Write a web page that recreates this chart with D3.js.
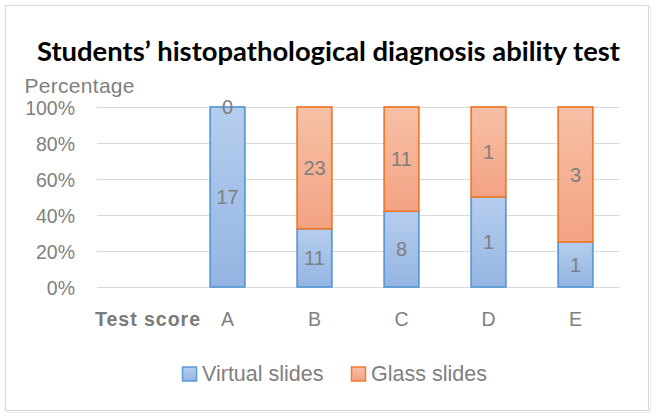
<!DOCTYPE html>
<html>
<head>
<meta charset="utf-8">
<script src="https://cdn.jsdelivr.net/npm/d3@7"></script>
<style>
html,body{margin:0;padding:0;background:#fff;}
svg{display:block;}
</style>
</head>
<body>
<svg id="chart" width="656" height="420"></svg>
<script>
const categories = ["A", "B", "C", "D", "E"];
const virtualSlides = [17, 11, 8, 1, 1];
const glassSlides = [0, 23, 11, 1, 3];
const seriesNames = ["Virtual slides", "Glass slides"];
const yTicks = [0, 0.2, 0.4, 0.6, 0.8, 1.0];
const title = "Students\u2019 histopathological diagnosis ability test";
const yTitle = "Percentage";
const xTitle = "Test score";

const svg = d3.select("#chart");
const W = 656, H = 420;
const m = {left: 97, right: 37, top: 107, bottom: 133};
const font = "'Liberation Sans', Arial, sans-serif";
const grey = "#7f7f7f";

// outer frame
svg.append("rect").attr("x", 5.5).attr("y", 5.5).attr("width", 643).attr("height", 405)
  .attr("fill", "#fff").attr("stroke", "#d9d9d9").attr("stroke-width", 1.2);
svg.append("line").attr("x1", 6).attr("x2", 650).attr("y1", 412.5).attr("y2", 412.5).attr("stroke", "#ececec");
svg.append("line").attr("x1", 650.5).attr("x2", 650.5).attr("y1", 6).attr("y2", 413).attr("stroke", "#ececec");

const defs = svg.append("defs");
const gB = defs.append("linearGradient").attr("id", "gBlue").attr("x1", 0).attr("x2", 0).attr("y1", 0).attr("y2", 1);
gB.append("stop").attr("offset", "0%").attr("stop-color", "#b6cdee");
gB.append("stop").attr("offset", "100%").attr("stop-color", "#94b5e2");
const gO = defs.append("linearGradient").attr("id", "gOrange").attr("x1", 0).attr("x2", 0).attr("y1", 0).attr("y2", 1);
gO.append("stop").attr("offset", "0%").attr("stop-color", "#f7c0a6");
gO.append("stop").attr("offset", "100%").attr("stop-color", "#f3a383");

const data = categories.map((c, i) => ({cat: c, v: virtualSlides[i], g: glassSlides[i], t: virtualSlides[i] + glassSlides[i]}));

const x = d3.scaleBand().domain([xTitle].concat(categories)).range([m.left, W - m.right]).paddingInner(0.59).paddingOuter(0.295);
const y = d3.scaleLinear().domain([0, 1]).range([H - m.bottom, m.top]);

// gridlines
svg.append("g").selectAll("line").data(yTicks).join("line")
  .attr("x1", m.left).attr("x2", W - m.right)
  .attr("y1", d => Math.round(y(d)) + 0.5).attr("y2", d => Math.round(y(d)) + 0.5)
  .attr("stroke", "#d9d9d9").attr("stroke-width", 1.2);

// y axis labels
const yAxis = d3.axisLeft(y).tickValues(yTicks).tickFormat(d3.format(".0%")).tickSize(0).tickPadding(0);
const ya = svg.append("g").attr("transform", `translate(${m.left - 22},0)`).call(yAxis);
ya.select(".domain").remove();
ya.selectAll("text").attr("font-family", font).attr("font-size", 19.5).attr("fill", grey).attr("dy", "0.36em");

// x axis labels
const xAxis = d3.axisBottom(x).tickSize(0).tickPadding(0);
const xa = svg.append("g").attr("transform", `translate(0,${H - m.bottom + 39})`).call(xAxis);
xa.select(".domain").remove();
xa.selectAll("text").attr("font-family", font).attr("font-size", 19.5).attr("fill", grey).attr("dy", "0");
xa.selectAll("text").filter(d => d === xTitle)
  .attr("font-weight", "bold").attr("fill", "#7a7a7a").attr("font-size", 19.5)
  .attr("text-anchor", "start").attr("x", 95 - x(xTitle) - x.bandwidth() / 2)
  .attr("textLength", 105).attr("lengthAdjust", "spacing");

// bars
const bars = svg.append("g");
bars.selectAll("rect.v").data(data).join("rect").attr("class", "v")
  .attr("x", d => x(d.cat) + 0.5).attr("width", x.bandwidth() - 1)
  .attr("y", d => y(d.v / d.t)).attr("height", d => y(0) - y(d.v / d.t))
  .attr("fill", "url(#gBlue)").attr("stroke", "#5b9bd5").attr("stroke-width", 1.8);
bars.selectAll("rect.g").data(data.filter(d => d.g > 0)).join("rect").attr("class", "g")
  .attr("x", d => x(d.cat) + 0.5).attr("width", x.bandwidth() - 1)
  .attr("y", d => y(1)).attr("height", d => y(d.v / d.t) - y(1))
  .attr("fill", "url(#gOrange)").attr("stroke", "#ed7d31").attr("stroke-width", 1.8);

// data labels
const lbl = svg.append("g").attr("font-family", font).attr("font-size", 20).attr("fill", grey).attr("text-anchor", "middle");
lbl.selectAll("text.v").data(data).join("text").attr("class", "v")
  .attr("x", d => x(d.cat) + x.bandwidth() / 2)
  .attr("y", d => y(d.v / d.t / 2)).attr("dy", "0.36em").text(d => d.v);
lbl.selectAll("text.g").data(data).join("text").attr("class", "g")
  .attr("x", d => x(d.cat) + x.bandwidth() / 2)
  .attr("y", d => y((1 + d.v / d.t) / 2)).attr("dy", "0.36em").text(d => d.g);

// title
svg.append("text").attr("x", 37).attr("y", 61)
  .attr("font-family", "Lato, 'Open Sans', sans-serif").attr("font-weight", "bold").attr("font-size", 26)
  .attr("textLength", 583).attr("lengthAdjust", "spacingAndGlyphs")
  .attr("fill", "#000").text(title);

// y title
svg.append("text").attr("x", 24.5).attr("y", 93).attr("font-family", font).attr("font-size", 21)
  .attr("textLength", 110).attr("lengthAdjust", "spacing")
  .attr("fill", grey).text(yTitle);

// legend
const legend = svg.append("g").attr("font-family", font).attr("font-size", 21.5).attr("fill", grey);
const lx = [182, 351];
const lcol = [["url(#gBlue)", "#5b9bd5"], ["url(#gOrange)", "#ed7d31"]];
seriesNames.forEach((s, i) => {
  legend.append("rect").attr("x", lx[i] + 0.5).attr("y", 367).attr("width", 14).attr("height", 14)
    .attr("fill", lcol[i][0]).attr("stroke", lcol[i][1]).attr("stroke-width", 1.5);
  legend.append("text").attr("x", lx[i] + 20).attr("y", 381).text(s);
});
</script>
</body>
</html>
